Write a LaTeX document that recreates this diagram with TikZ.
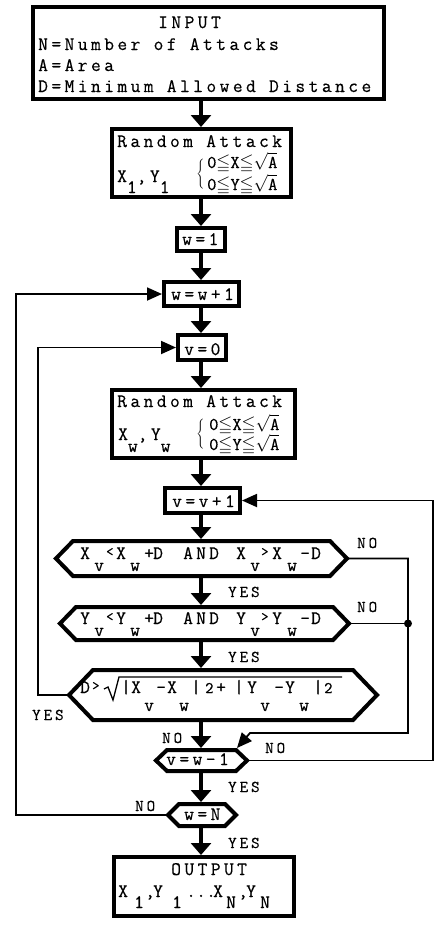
\documentclass[tikz,border=0pt]{standalone}
\usepackage{amssymb}
\usepackage{graphicx}
\usepackage{fontspec}
\usetikzlibrary{arrows.meta,calc}
\newfontfamily\tw[LetterSpace=18,FakeBold=0.4]{Latin Modern Mono}
\newfontfamily\twn[FakeBold=0.4]{Latin Modern Mono}
\newcommand\mainf{\tw\fontsize{19}{21}\selectfont}
\newcommand\labf{\tw\fontsize{16.5}{18}\selectfont}
\newcommand\condf{\twn\fontsize{18}{20}\selectfont}
\newcommand\cellf{\twn\fontsize{19}{21}\selectfont}
\newcommand\dn[1]{\raisebox{-11pt}{#1}}
\newcommand\dnh[1]{\raisebox{-12pt}{#1}}
\newcommand\dnr[1]{\raisebox{-18pt}{#1}}
\newcommand\upc[1]{\raisebox{3pt}{\scalebox{0.75}{#1}}}
\newcommand\tc[2]{\makebox[#1pt][l]{#2}}
\newcommand\cond[1]{0$\leqq$#1$\leqq$\smash{$\sqrt{\hbox{A}}$}}
\tikzset{
 box/.style={draw, line width=4pt, rectangle, inner sep=0pt, outer sep=2pt},
 hexn/.style={rectangle, inner sep=0pt, outer sep=2pt},
 hexline/.style={draw, line width=4pt, line join=miter},
 txt/.style={inner sep=0pt, anchor=base west, font=\mainf},
 celltxt/.style={inner sep=0pt, anchor=base west, font=\cellf},
 lab/.style={inner sep=0pt, anchor=base west, font=\labf},
 cnd/.style={inner sep=0pt, anchor=base west, font=\condf},
 flow/.style={line width=4pt, -{Triangle[width=20pt,length=12pt]}},
 conn/.style={line width=1.8pt, line join=miter},
 connar/.style={conn, -{Triangle[width=13pt,length=15pt]}},
}
\newcommand\hexpath[2]{\draw[hexline] (#1.west) -- ($(#1.north west)+(#2,2)$) -- ($(#1.north east)+(-#2,2)$) -- (#1.east) -- ($(#1.south east)+(-#2,-2)$) -- ($(#1.south west)+(#2,-2)$) -- cycle;}
\begin{document}
\begin{tikzpicture}[x=1pt,y=-1pt]
\useasboundingbox[fill=white] (0,0) rectangle (444,930);
\coordinate (ax) at (201,0);
\coordinate (rx) at (408,0);
\coordinate (rr) at (433,0);
\coordinate (lx) at (38,0);
\coordinate (llx) at (16,0);
% boxes
\node[box, minimum width=351pt, minimum height=92pt] (input) at (208.5,53) {};
\node[box, minimum width=179pt, minimum height=68pt] (ra1) at (201.5,163) {};
\node[box, minimum width=48pt, minimum height=23pt] (w1) at (201,239.5) {};
\node[box, minimum width=75pt, minimum height=24pt] (ww) at (201.5,294) {};
\node[box, minimum width=48pt, minimum height=25pt] (v0) at (202,347.5) {};
\node[box, minimum width=183pt, minimum height=68pt] (raw) at (203.5,424) {};
\node[box, minimum width=75pt, minimum height=25pt] (vv) at (202.5,500.5) {};
\node[box, minimum width=180pt, minimum height=59pt] (out) at (204,886.5) {};
% hexagons
\node[hexn, minimum width=287pt, minimum height=35pt] (h1) at (201.5,558.5) {};
\node[hexn, minimum width=285pt, minimum height=33pt] (h2) at (204.5,623.5) {};
\node[hexn, minimum width=304pt, minimum height=50pt] (h3) at (223,695) {};
\node[hexn, minimum width=87pt, minimum height=21pt] (vw) at (201.5,760.5) {};
\node[hexn, minimum width=64pt, minimum height=22pt] (wn) at (202,815) {};
\hexpath{h1}{17}
\hexpath{h2}{16}
\hexpath{h3}{24}
\hexpath{vw}{11}
\hexpath{wn}{11}
% texts
\node[txt] (tin0) at (158,28) {INPUT};
\node[txt] (tin1) at (38,50) {N=Number of Attacks};
\node[txt] (tin2) at (38,71) {A=Area};
\node[txt] (tin3) at (38,92) {D=Minimum Allowed Distance};
\node[txt] (tr1a) at (117,147) {Random Attack};
\node[txt] (tr1b) at (117,182) {X\dn{1},Y\dn{1}};
\node[inner sep=0pt] (tr1c) at (201,174) {$\left\{\rule[-11pt]{0pt}{22pt}\right.$};
\node[cnd] (tr1d) at (207,168) {\cond{X}};
\node[cnd] (tr1e) at (207,190) {\cond{Y}};
\node[txt] (tw1) at (182,245) {w=1};
\node[txt] (tww) at (171,300) {w=w+1};
\node[txt] (tv0) at (184,355) {v=0};
\node[txt] (trwa) at (117,407) {Random Attack};
\node[txt] (trwb) at (118,440) {X\dnh{w},Y\dnh{w}};
\node[inner sep=0pt] (trwc) at (201,434) {$\left\{\rule[-11pt]{0pt}{22pt}\right.$};
\node[cnd] (trwd) at (209,430) {\cond{X}};
\node[cnd] (trwe) at (209,450) {\cond{Y}};
\node[txt] (tvv) at (172,507) {v=v+1};
\node[celltxt] (th1) at (80,559) {\tc{14}{X}\tc{12}{\dnh{v}}\tc{10}{\upc{<}}\tc{14}{X}\tc{14}{\dnh{w}}\tc{9}{+}\tc{30}{D}\tc{13}{A}\tc{13}{N}\tc{27}{D}\tc{14}{X}\tc{11}{\dnh{v}}\tc{11}{\upc{>}}\tc{15}{X}\tc{13}{\dnh{w}}\tc{11}{-}\tc{12}{D}};
\node[celltxt] (th2) at (80,624) {\tc{14}{Y}\tc{12}{\dnh{v}}\tc{10}{\upc{<}}\tc{14}{Y}\tc{14}{\dnh{w}}\tc{9}{+}\tc{30}{D}\tc{13}{A}\tc{13}{N}\tc{27}{D}\tc{14}{Y}\tc{11}{\dnh{v}}\tc{11}{\upc{>}}\tc{15}{Y}\tc{13}{\dnh{w}}\tc{11}{-}\tc{12}{D}};
\node[celltxt] (th3a) at (80,693) {\tc{12}{D}\upc{>}};
\draw[line width=1.3pt, line join=miter] (104,689) -- (108,687) -- (113,700) -- (119,677) -- (342,677);
\node[celltxt] (th3b) at (121,693) {\tc{10}{|}\tc{13}{X}\tc{12}{\dnr{v}}\tc{11}{-}\tc{12}{X}\tc{12}{\dnr{w}}\tc{14}{|}\tc{11}{\scalebox{0.85}{2}}\tc{18}{+}\tc{13}{|}\tc{13}{Y}\tc{14}{\dnr{v}}\tc{11}{-}\tc{14}{Y}\tc{14}{\dnr{w}}\tc{11}{|}\tc{10}{\scalebox{0.85}{2}}};
\node[txt] (tvw) at (166,765) {v=w-1};
\node[txt] (twn) at (184,820) {w=N};
\node[txt] (tout1) at (171,875) {OUTPUT};
\node[celltxt] (tout2) at (118,897) {\tc{16}{X}\tc{11}{\dn{1}}\tc{8}{,}\tc{19}{Y}\tc{14}{\dn{1}}\tc{10}{.}\tc{10}{.}\tc{7}{.}\tc{13}{X}\tc{12}{\dn{N}}\tc{8}{,}\tc{14}{Y}\tc{13}{\dn{N}}};
% labels
\node[lab] (lno1) at (357,548) {NO};
\node[lab] (lno2) at (357,612) {NO};
\node[lab] (lyes1) at (228,597) {YES};
\node[lab] (lyes2) at (228,662) {YES};
\node[lab] (lyes3) at (32,720) {YES};
\node[lab] (lno3) at (162,743) {NO};
\node[lab] (lno4) at (265,753) {NO};
\node[lab] (lyes4) at (228,792) {YES};
\node[lab] (lno5) at (135,811) {NO};
\node[lab] (lyes5) at (228,848) {YES};
% main flow
\draw[flow] (ax |- input.south) -- (ax |- ra1.north);
\draw[flow] (ax |- ra1.south) -- (ax |- w1.north);
\draw[flow] (ax |- w1.south) -- (ax |- ww.north);
\draw[flow] (ax |- ww.south) -- (ax |- v0.north);
\draw[flow] (ax |- v0.south) -- (ax |- raw.north);
\draw[flow] (ax |- raw.south) -- (ax |- vv.north);
\draw[flow] (ax |- vv.south) -- (ax |- h1.north);
\draw[flow] (ax |- h1.south) -- (ax |- h2.north);
\draw[flow] (ax |- h2.south) -- (ax |- h3.north);
\draw[flow] (ax |- h3.south) -- (ax |- vw.north);
\draw[flow] (ax |- vw.south) -- (ax |- wn.north);
\draw[flow] (ax |- wn.south) -- (ax |- out.north);
% connectors
\coordinate (r3) at (250,733);
\coordinate (vwin) at (237,748);
\draw[connar] (h1.east) -- (rx |- h1.east) -- (rx |- r3) -- (r3) -- (vwin);
\draw[conn] (h2.east) -- (rx |- h2.east);
\fill (rx |- h2.east) circle (4pt);
\draw[connar] (vw.east) -- (rr |- vw.east) -- (rr |- vv.east) -- (vv.east);
\draw[connar] (h3.west) -- (lx |- h3.west) -- (lx |- v0.west) -- (v0.west);
\draw[connar] (wn.west) -- (llx |- wn.west) -- (llx |- ww.west) -- (ww.west);
\end{tikzpicture}
\end{document}
